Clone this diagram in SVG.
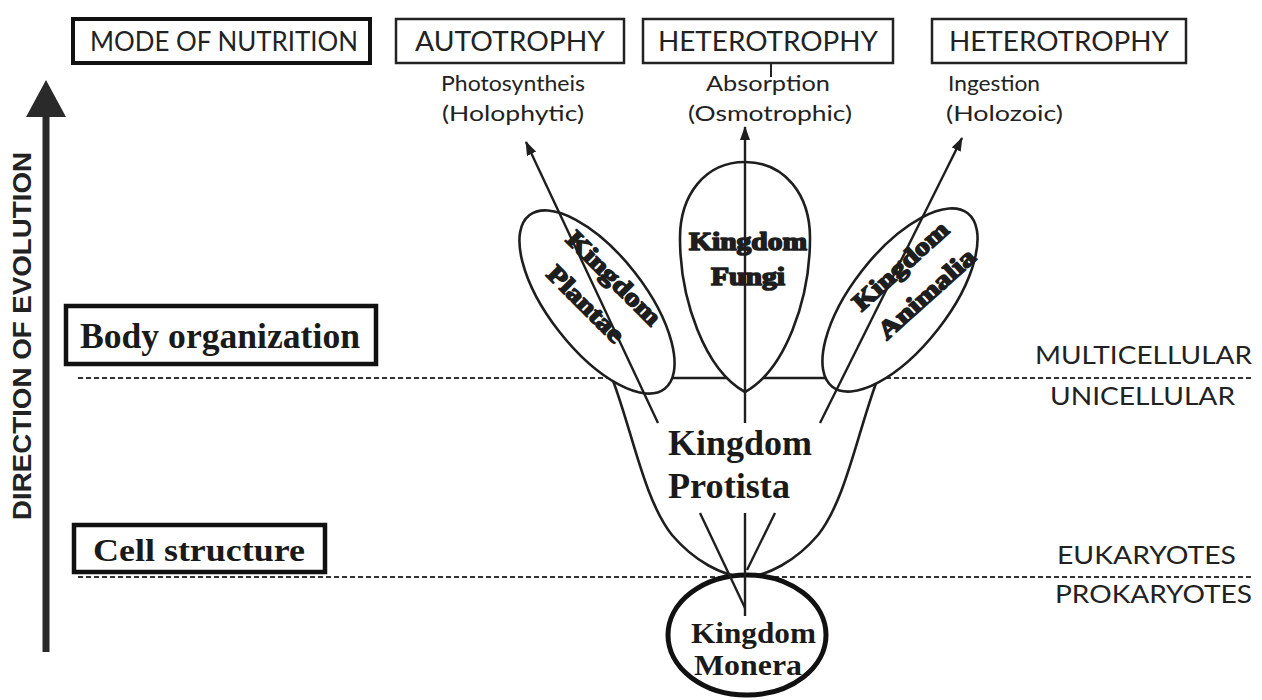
<svg xmlns="http://www.w3.org/2000/svg" width="1262" height="700" viewBox="0 0 1262 700">
  <defs>
    <marker id="tip" viewBox="0 0 14 10" refX="13" refY="5" markerWidth="14" markerHeight="10" markerUnits="userSpaceOnUse" orient="auto">
      <path d="M0,0 L14,5 L0,10 Z" fill="#1e1e1e"/>
    </marker>
    <style>
      .hbox { fill: #fff; stroke: #222; stroke-width: 2.5; }
      .hbox-strong { fill: #fff; stroke: #111; stroke-width: 4; }
      .lbox { fill: #fff; stroke: #111; stroke-width: 4.5; }
      .sans { font-family: Lato, "Open Sans", "Liberation Sans", sans-serif; fill: #222; }
      .head { font-size: 27px; }
      .sub { font-size: 22px; }
      .side { font-size: 25px; }
      .serif { font-family: "Liberation Serif", "Times New Roman", serif; font-weight: bold; fill: #1a1a1a; }
      .heavy { font-family: "Liberation Serif", "Times New Roman", serif; font-weight: bold; fill: #1e1e1e; stroke: #1e1e1e; stroke-width: 1.6; stroke-linejoin: round; }
      .dash { stroke: #333; stroke-width: 2; stroke-dasharray: 5 3; fill: none; }
      .outline { fill: #fff; stroke: #1e1e1e; stroke-width: 2.6; }
      .link { stroke: #1e1e1e; stroke-width: 2.4; fill: none; }
    </style>
  </defs>

  <rect width="1262" height="700" fill="#fff"/>

  <!-- evolution axis -->
  <g id="axis">
    <line x1="46" y1="652" x2="46" y2="112" stroke="#2a2a2a" stroke-width="7"/>
    <path d="M46,80 L66,117 L26,117 Z" fill="#2a2a2a"/>
    <text font-family="Liberation Sans, Arial, sans-serif" font-weight="bold" font-size="26" fill="#222" transform="translate(31,336) rotate(-90)" text-anchor="middle" textLength="368" lengthAdjust="spacingAndGlyphs">DIRECTION OF EVOLUTION</text>
  </g>

  <!-- level dividers -->
  <g id="dividers">
    <line class="dash" x1="78" y1="378" x2="1252" y2="378"/>
    <line class="dash" x1="78" y1="577" x2="1252" y2="577"/>
  </g>

  <!-- header row -->
  <g id="mode-of-nutrition">
    <rect class="hbox-strong" x="73" y="19" width="297" height="44"/>
    <text class="sans head" x="224" y="51" text-anchor="middle" textLength="268" lengthAdjust="spacingAndGlyphs">MODE OF NUTRITION</text>
  </g>
  <g id="autotrophy">
    <rect class="hbox" x="396" y="19" width="228" height="44"/>
    <text class="sans head" x="510" y="51" text-anchor="middle" textLength="190" lengthAdjust="spacingAndGlyphs">AUTOTROPHY</text>
    <text class="sans sub" x="513" y="91" text-anchor="middle" textLength="144" lengthAdjust="spacingAndGlyphs">Photosyntheis</text>
    <text class="sans sub" x="513" y="121" text-anchor="middle" textLength="142" lengthAdjust="spacingAndGlyphs">(Holophytic)</text>
  </g>
  <g id="heterotrophy-absorption">
    <rect class="hbox" x="643" y="19" width="250" height="44"/>
    <text class="sans head" x="768" y="51" text-anchor="middle" textLength="220" lengthAdjust="spacingAndGlyphs">HETEROTROPHY</text>
    <line x1="771" y1="64" x2="771" y2="77" stroke="#222" stroke-width="2"/>
    <text class="sans sub" x="768" y="91" text-anchor="middle" textLength="124" lengthAdjust="spacingAndGlyphs">Absorption</text>
    <text class="sans sub" x="770" y="121" text-anchor="middle" textLength="164" lengthAdjust="spacingAndGlyphs">(Osmotrophic)</text>
  </g>
  <g id="heterotrophy-ingestion">
    <rect class="hbox" x="932" y="19" width="254" height="44"/>
    <text class="sans head" x="1059" y="51" text-anchor="middle" textLength="220" lengthAdjust="spacingAndGlyphs">HETEROTROPHY</text>
    <text class="sans sub" x="948" y="91" textLength="92" lengthAdjust="spacingAndGlyphs">Ingestion</text>
    <text class="sans sub" x="946" y="121" textLength="117" lengthAdjust="spacingAndGlyphs">(Holozoic)</text>
  </g>

  <!-- level captions -->
  <g id="body-organization">
    <rect class="lbox" x="66" y="306" width="310" height="58"/>
    <text class="serif" font-size="35" x="80" y="348" textLength="280" lengthAdjust="spacingAndGlyphs">Body organization</text>
  </g>
  <g id="cell-structure">
    <rect class="lbox" x="74" y="525" width="251" height="47"/>
    <text class="serif" font-size="32" x="93" y="561" textLength="212" lengthAdjust="spacingAndGlyphs">Cell structure</text>
  </g>
  <g id="level-labels">
    <text class="sans side" x="1035" y="364" textLength="217" lengthAdjust="spacingAndGlyphs">MULTICELLULAR</text>
    <text class="sans side" x="1050" y="405" textLength="185" lengthAdjust="spacingAndGlyphs">UNICELLULAR</text>
    <text class="sans side" x="1057" y="564" textLength="179" lengthAdjust="spacingAndGlyphs">EUKARYOTES</text>
    <text class="sans side" x="1055" y="603" textLength="197" lengthAdjust="spacingAndGlyphs">PROKARYOTES</text>
  </g>

  <!-- kingdoms -->
  <g id="kingdom-protista">
    <path class="outline" d="M612,378 C632,430 644,500 672,535 C695,562 722,575 745,578 C768,575 795,562 818,535 C846,500 858,430 878,378 Z"/>
  </g>
  <g id="kingdom-fungi">
    <path class="outline" d="M745,162 C785,162 810,195 810,238 C810,300 785,370 745,392 C705,370 680,300 680,238 C680,195 705,162 745,162 Z"/>
  </g>
  <g id="kingdom-plantae">
    <ellipse class="outline" cx="597" cy="302" rx="110" ry="48" transform="rotate(52 597 302)"/>
  </g>
  <g id="kingdom-animalia">
    <ellipse class="outline" cx="900" cy="300" rx="110" ry="48" transform="rotate(-52 900 300)"/>
  </g>
  <g id="kingdom-monera">
    <ellipse cx="747" cy="635" rx="79" ry="60" fill="#fff" stroke="#111" stroke-width="5"/>
  </g>

  <!-- lines of descent -->
  <g id="connectors">
    <line class="link" x1="745" y1="608" x2="700" y2="513"/>
    <line class="link" x1="658" y1="423" x2="526" y2="142" marker-end="url(#tip)"/>
    <line class="link" x1="745" y1="616" x2="745" y2="513"/>
    <line class="link" x1="745" y1="423" x2="745" y2="127" marker-end="url(#tip)"/>
    <line class="link" x1="747" y1="570" x2="775" y2="513"/>
    <line class="link" x1="820" y1="423" x2="962" y2="138" marker-end="url(#tip)"/>
  </g>

  <!-- kingdom names -->
  <g id="kingdom-names">
    <text class="heavy" font-size="25" text-anchor="middle" transform="translate(608,284) rotate(45)" textLength="122" lengthAdjust="spacingAndGlyphs">Kingdom</text>
    <text class="heavy" font-size="25" text-anchor="middle" transform="translate(580,310) rotate(45)" textLength="98" lengthAdjust="spacingAndGlyphs">Plantae</text>
    <text class="heavy" font-size="25" text-anchor="middle" x="748" y="250" textLength="118" lengthAdjust="spacingAndGlyphs">Kingdom</text>
    <text class="heavy" font-size="25" text-anchor="middle" x="748" y="285" textLength="74" lengthAdjust="spacingAndGlyphs">Fungi</text>
    <text class="heavy" font-size="25" text-anchor="middle" transform="translate(906,272) rotate(-42)" textLength="120" lengthAdjust="spacingAndGlyphs">Kingdom</text>
    <text class="heavy" font-size="25" text-anchor="middle" transform="translate(932,300) rotate(-42)" textLength="122" lengthAdjust="spacingAndGlyphs">Animalia</text>
    <text class="serif" font-size="35" x="668" y="455" textLength="144" lengthAdjust="spacingAndGlyphs">Kingdom</text>
    <text class="serif" font-size="35" x="668" y="498" textLength="122" lengthAdjust="spacingAndGlyphs">Protista</text>
    <text class="serif" font-size="30" x="691" y="643" textLength="125" lengthAdjust="spacingAndGlyphs">Kingdom</text>
    <text class="serif" font-size="30" x="694" y="675" textLength="108" lengthAdjust="spacingAndGlyphs">Monera</text>
  </g>
</svg>
